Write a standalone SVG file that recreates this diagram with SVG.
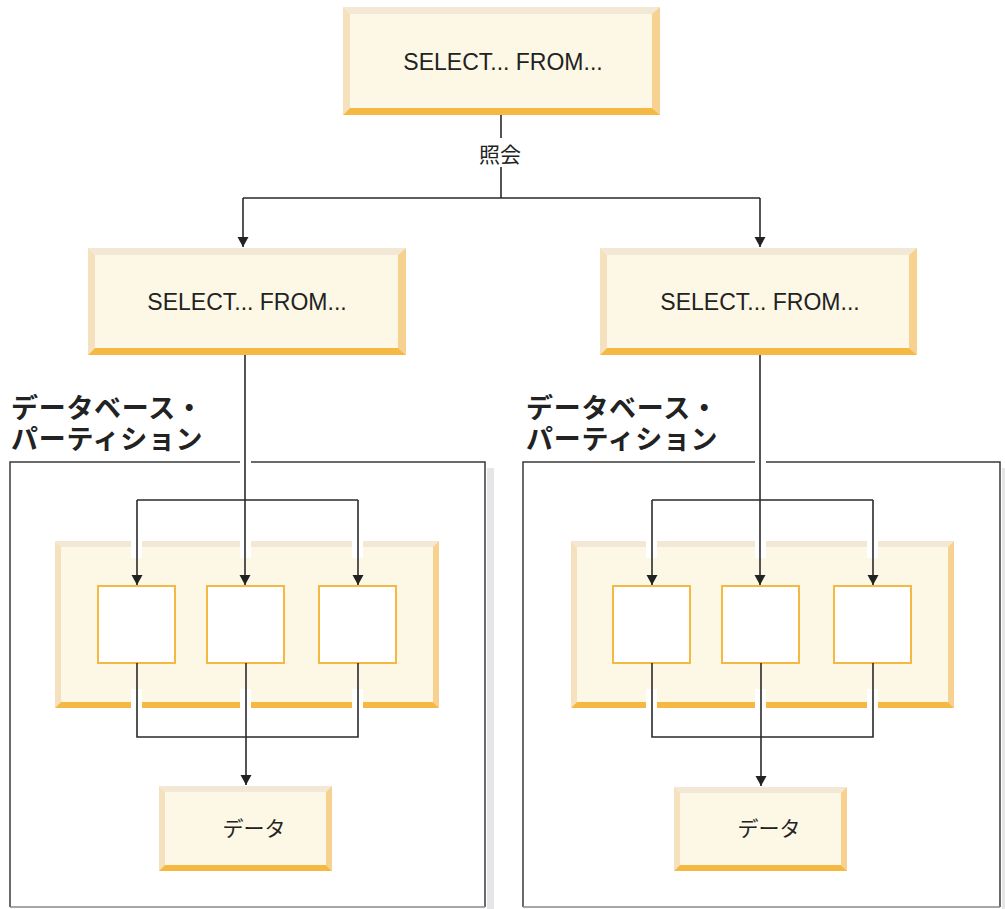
<svg xmlns="http://www.w3.org/2000/svg" width="1005" height="909" viewBox="0 0 1005 909">
<style>
.in{fill:#FDF7E5}
.bt{fill:#F3E8D6}
.bl{fill:#F5E1BD}
.br{fill:#F7D18F}
.bb{fill:#F5B843}
.cell{fill:#FFFFFF;stroke:#F5B843;stroke-width:2}
.part{fill:none;stroke:#3a3a3a;stroke-width:1.5}
.partb{fill:none;stroke:#8a8a8a;stroke-width:1.5}
.shadow{fill:#E6E6E8}
.sql{font-family:"Liberation Sans",Arial,sans-serif;font-size:23px;fill:#222;text-anchor:middle}
.jp{font-family:"Noto Sans CJK JP","Noto Sans",sans-serif;fill:#222}
.lbl{font-size:21px;text-anchor:middle}
.ttl{font-size:27px;font-weight:bold;letter-spacing:0.7px}
.ln{fill:none;stroke:#2a2a2a;stroke-width:1.6}
.gap{fill:#FFFFFF}
</style>
<defs>
<marker id="arr" markerUnits="userSpaceOnUse" markerWidth="12" markerHeight="12" refX="10" refY="5.5" orient="auto">
<path d="M0,0 L10,5.5 L0,11 z" fill="#222"/>
</marker>
</defs>

<g id="partition-left">
<rect class="shadow" x="487" y="468" width="7" height="441"/>
<path class="part" d="M10,907 V462 H485 V907"/>
<path class="partb" d="M10,907 H485"/>
<text class="jp ttl" x="11" y="418">データベース・</text>
<text class="jp ttl" x="11" y="449">パーティション</text>
</g>

<g id="partition-right">
<rect class="shadow" x="1002" y="468" width="3" height="441"/>
<path class="part" d="M523,907 V462 H1000 V907"/>
<path class="partb" d="M523,907 H1000"/>
<text class="jp ttl" x="526" y="418">データベース・</text>
<text class="jp ttl" x="526" y="449">パーティション</text>
</g>

<g id="query-top">
<rect class="in" x="343" y="7" width="317" height="108"/>
<polygon class="bt" points="343,7 660,7 652,14 350,14"/>
<polygon class="bl" points="343,7 350,14 350,108 343,115"/>
<polygon class="br" points="660,7 660,115 652,108 652,14"/>
<polygon class="bb" points="343,115 660,115 652,108 350,108"/>
<text class="sql" x="503" y="70">SELECT... FROM...</text>
</g>

<g id="query-left">
<rect class="in" x="88" y="248" width="318" height="107"/>
<polygon class="bt" points="88,248 406,248 398,255 95,255"/>
<polygon class="bl" points="88,248 95,255 95,348 88,355"/>
<polygon class="br" points="406,248 406,355 398,348 398,255"/>
<polygon class="bb" points="88,355 406,355 398,348 95,348"/>
<text class="sql" x="247" y="310">SELECT... FROM...</text>
</g>

<g id="query-right">
<rect class="in" x="600" y="248" width="317" height="107"/>
<polygon class="bt" points="600,248 917,248 909,255 607,255"/>
<polygon class="bl" points="600,248 607,255 607,348 600,355"/>
<polygon class="br" points="917,248 917,355 909,348 909,255"/>
<polygon class="bb" points="600,355 917,355 909,348 607,348"/>
<text class="sql" x="760" y="310">SELECT... FROM...</text>
</g>

<g id="agents-left">
<rect class="in" x="55" y="541" width="384" height="167"/>
<polygon class="bt" points="55,541 439,541 433,547 61,547"/>
<polygon class="bl" points="55,541 61,547 61,702 55,708"/>
<polygon class="br" points="439,541 439,708 433,702 433,547"/>
<polygon class="bb" points="55,708 439,708 433,702 61,702"/>
</g>

<g id="agents-right">
<rect class="in" x="571" y="541" width="383" height="167"/>
<polygon class="bt" points="571,541 954,541 948,547 577,547"/>
<polygon class="bl" points="571,541 577,547 577,702 571,708"/>
<polygon class="br" points="954,541 954,708 948,702 948,547"/>
<polygon class="bb" points="571,708 954,708 948,702 577,702"/>
</g>

<g id="cell-l1"><rect class="cell" x="98" y="586" width="77" height="77"/></g>
<g id="cell-l2"><rect class="cell" x="207" y="586" width="77" height="77"/></g>
<g id="cell-l3"><rect class="cell" x="319" y="586" width="77" height="77"/></g>
<g id="cell-r1"><rect class="cell" x="613" y="586" width="77" height="77"/></g>
<g id="cell-r2"><rect class="cell" x="722" y="586" width="77" height="77"/></g>
<g id="cell-r3"><rect class="cell" x="834" y="586" width="77" height="77"/></g>

<g id="data-left">
<rect class="in" x="159" y="786" width="173" height="85"/>
<polygon class="bt" points="159,786 332,786 326,792 165,792"/>
<polygon class="bl" points="159,786 165,792 165,865 159,871"/>
<polygon class="br" points="332,786 332,871 326,865 326,792"/>
<polygon class="bb" points="159,871 332,871 326,865 165,865"/>
<text class="jp lbl" x="254" y="836">データ</text>
</g>

<g id="data-right">
<rect class="in" x="674" y="787" width="173" height="84"/>
<polygon class="bt" points="674,787 847,787 841,793 680,793"/>
<polygon class="bl" points="674,787 680,793 680,865 674,871"/>
<polygon class="br" points="847,787 847,871 841,865 841,793"/>
<polygon class="bb" points="674,871 847,871 841,865 680,865"/>
<text class="jp lbl" x="769" y="836">データ</text>
</g>

<g id="connectors">
<rect class="gap" x="476" y="138" width="48" height="29"/>
<rect class="gap" x="240" y="457" width="11" height="10"/>
<rect class="gap" x="755" y="457" width="11" height="10"/>
<rect class="gap" x="131" y="541" width="11" height="17"/>
<rect class="gap" x="240" y="541" width="11" height="17"/>
<rect class="gap" x="352" y="541" width="11" height="17"/>
<rect class="gap" x="131" y="689" width="11" height="19"/>
<rect class="gap" x="240" y="689" width="11" height="19"/>
<rect class="gap" x="352" y="689" width="11" height="19"/>
<rect class="gap" x="646" y="541" width="11" height="17"/>
<rect class="gap" x="755" y="541" width="11" height="17"/>
<rect class="gap" x="867" y="541" width="11" height="17"/>
<rect class="gap" x="646" y="689" width="11" height="19"/>
<rect class="gap" x="755" y="689" width="11" height="19"/>
<rect class="gap" x="867" y="689" width="11" height="19"/>

<path class="ln" d="M501,115 V138 M501,167 V198 M243,198 H760"/>
<path class="ln" d="M243,198 V247" marker-end="url(#arr)"/>
<path class="ln" d="M760,198 V247" marker-end="url(#arr)"/>
<text class="jp lbl" x="500" y="162">照会</text>

<path class="ln" d="M245,355 V585" marker-end="url(#arr)"/>
<path class="ln" d="M137,500 H358"/>
<path class="ln" d="M137,500 V585" marker-end="url(#arr)"/>
<path class="ln" d="M358,500 V585" marker-end="url(#arr)"/>
<path class="ln" d="M137,663 V737 H358 V663"/>
<path class="ln" d="M246,663 V785" marker-end="url(#arr)"/>

<path class="ln" d="M760,355 V585" marker-end="url(#arr)"/>
<path class="ln" d="M652,500 H873"/>
<path class="ln" d="M652,500 V585" marker-end="url(#arr)"/>
<path class="ln" d="M873,500 V585" marker-end="url(#arr)"/>
<path class="ln" d="M652,663 V737 H873 V663"/>
<path class="ln" d="M761,663 V786" marker-end="url(#arr)"/>
</g>
</svg>
